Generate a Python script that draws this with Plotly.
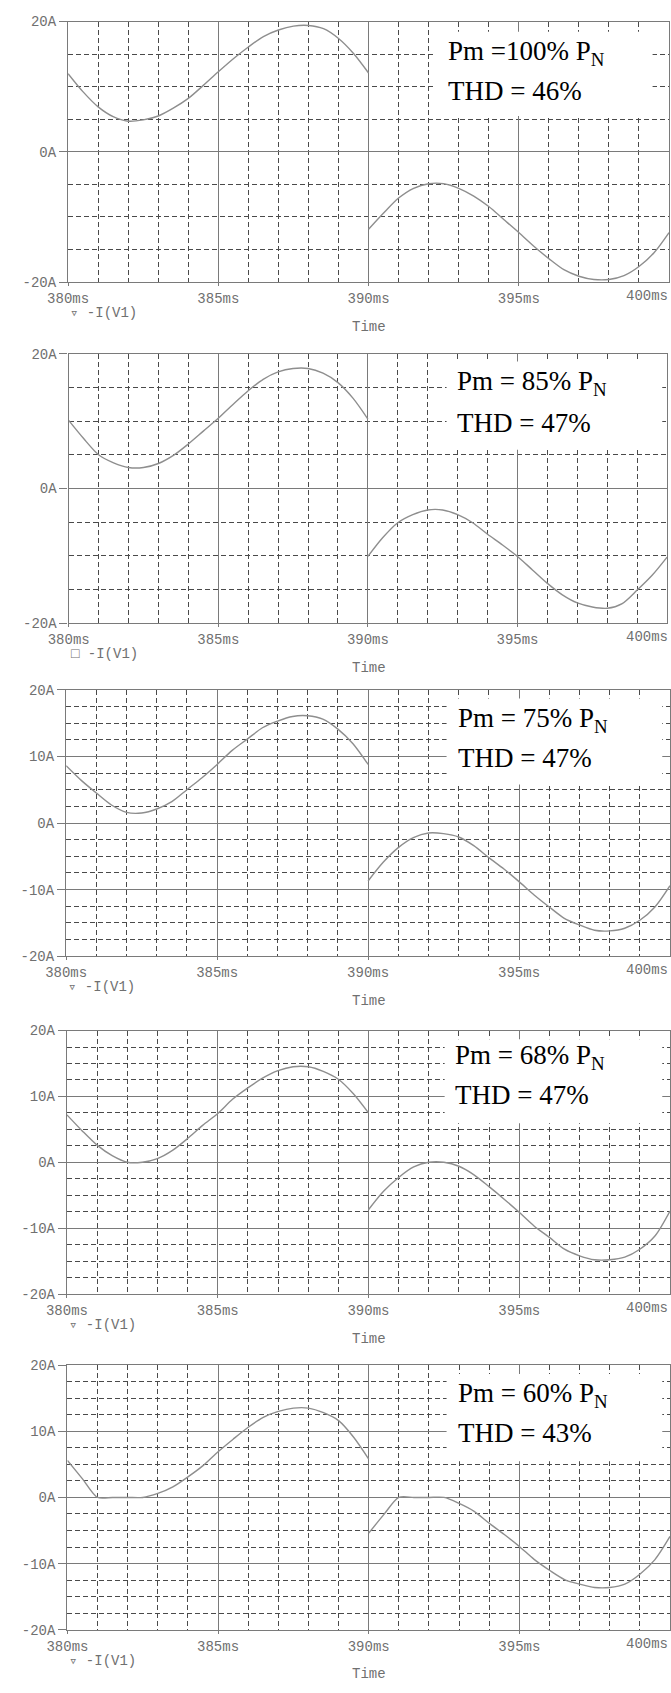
import plotly.graph_objects as go

# ---------------- data ----------------
TIME_POS_MS = [380, 380.5, 381, 381.5, 382, 382.5, 383, 383.5, 384, 384.5, 385,
               385.5, 386, 386.5, 387, 387.5, 388, 388.5, 389, 389.5, 390]
TIME_NEG_MS = [390, 390.5, 391, 391.5, 392, 392.5, 393, 393.5, 394, 394.5, 395,
               395.5, 396, 396.5, 397, 397.5, 398, 398.5, 399, 399.5, 400]

I_100_POS = [12.0, 9.2, 6.9, 5.4, 4.7, 4.9, 5.5, 6.7, 8.2, 10.2, 12.3,
             14.3, 16.1, 17.7, 18.7, 19.3, 19.4, 18.9, 17.4, 15.1, 12.1]
I_100_NEG = [-11.9, -9.4, -7.1, -5.6, -4.9, -4.9, -5.6, -6.8, -8.4, -10.4, -12.4,
             -14.5, -16.4, -18.1, -19.1, -19.6, -19.6, -19.0, -17.6, -15.5, -12.4]

I_85_POS = [10.1, 7.4, 5.0, 3.8, 3.1, 3.1, 3.7, 4.9, 6.6, 8.5, 10.4,
            12.5, 14.5, 16.2, 17.3, 17.8, 17.8, 17.1, 15.7, 13.4, 10.3]
I_85_NEG = [-10.1, -7.3, -5.1, -3.9, -3.2, -3.2, -3.9, -5.1, -6.8, -8.4, -10.1,
            -12.1, -14.1, -15.8, -17.0, -17.6, -17.8, -17.1, -15.1, -12.9, -10.2]

I_75_POS = [8.6, 6.4, 4.5, 2.7, 1.6, 1.5, 2.1, 3.2, 5.0, 6.8, 8.8,
            10.9, 12.6, 14.3, 15.3, 16.0, 16.1, 15.6, 14.1, 11.9, 8.8]
I_75_NEG = [-8.7, -5.9, -3.7, -2.2, -1.5, -1.6, -2.1, -3.4, -5.2, -6.9, -8.8,
            -10.8, -12.6, -14.3, -15.3, -16.1, -16.2, -15.8, -14.6, -12.6, -9.4]

I_68_POS = [7.2, 4.8, 2.6, 1.0, 0.0, 0.0, 0.55, 1.8, 3.6, 5.6, 7.4,
            9.6, 11.3, 12.8, 13.9, 14.5, 14.5, 13.8, 12.6, 10.4, 7.5]
I_68_NEG = [-7.2, -4.4, -2.3, -0.7, 0.0, 0.0, -0.6, -1.9, -3.7, -5.6, -7.6,
            -9.7, -11.4, -13.2, -14.2, -14.8, -14.8, -14.4, -13.2, -11.2, -7.4]

I_60_POS = [5.6, 2.8, 0.0, 0.0, 0.0, 0.0, 0.6, 1.6, 3.1, 4.8, 6.9,
            8.8, 10.6, 12.1, 13.0, 13.5, 13.5, 12.8, 11.6, 9.1, 5.8]
I_60_NEG = [-5.4, -2.6, 0.0, 0.0, 0.0, 0.0, -0.9, -2.1, -3.9, -5.6, -7.4,
            -9.4, -11.0, -12.4, -13.1, -13.6, -13.6, -13.1, -11.6, -9.4, -5.9]

PM_LABELS = ["Pm =100% P<sub>N</sub>", "Pm = 85% P<sub>N</sub>", "Pm = 75% P<sub>N</sub>",
             "Pm = 68% P<sub>N</sub>", "Pm = 60% P<sub>N</sub>"]
THD_LABELS = ["THD = 46%", "THD = 47%", "THD = 47%", "THD = 47%", "THD = 43%"]
LEGEND_LABELS = ["\u25BF -I(V1)", "\u25A1 -I(V1)", "\u25BF -I(V1)", "\u25BF -I(V1)", "\u25BF -I(V1)"]

X_TICK_VALS = [380, 385, 390, 395]
X_TICK_TEXT = ["380ms", "385ms", "390ms", "395ms"]
X_LAST_TICK_TEXT = "400ms"
Y_TICK_VALS_A = [-20, 0, 20]
Y_TICK_TEXT_A = ["-20A", "0A", "20A"]
Y_TICK_VALS_B = [-20, -10, 0, 10, 20]
Y_TICK_TEXT_B = ["-20A", "-10A", "0A", "10A", "20A"]

SERIES = [(I_100_POS, I_100_NEG), (I_85_POS, I_85_NEG), (I_75_POS, I_75_NEG),
          (I_68_POS, I_68_NEG), (I_60_POS, I_60_NEG)]

# ---------------- layout geometry (pixels) ----------------
W, H = 671, 1693
PANEL_TOP = [14.7, 350, 689.3, 1033.3, 1371]
PANEL_BOT = [277.7, 622, 958.3, 1299.3, 1638.3]
PANEL_LEFT = [48.7, 49.3, 46.7, 47.5, 48]
PANEL_RIGHT = [670, 668, 671, 671, 671]
BOX = [(427, 653, 25, 110), (440, 663, 358, 447), (440, 663, 698, 785),
       (438, 663, 1042, 1127), (440, 663, 1380, 1468)]
TEXT_POS = [(450, 53, 90), (460, 387, 425), (461, 727, 763),
            (458, 1067, 1103), (461, 1408, 1445)]

MAJOR_GRID = "#7a7a7a"
MINOR_GRID = "#4a4a4a"
TICK_FONT = dict(family="Liberation Mono, DejaVu Sans Mono, monospace", size=14, color="#707070")
SERIF = dict(family="Liberation Serif, Times New Roman, serif", size=27, color="black")
CURVE = "#8e8e8e"


def px_x(v):
    return v / W


def px_y(v):
    return 1 - v / H


fig = go.Figure()
layout = {}
shapes = []
annotations = []

for k, (pos, neg) in enumerate(SERIES):
    n = k + 1
    xname = "x" if n == 1 else f"x{n}"
    yname = "y" if n == 1 else f"y{n}"
    xs = TIME_POS_MS + [None] + TIME_NEG_MS
    ys = pos + [None] + neg
    fig.add_trace(go.Scatter(x=xs, y=ys, mode="lines", xaxis=xname, yaxis=yname,
                             line=dict(color=CURVE, width=1.4, shape="spline", smoothing=0.8),
                             connectgaps=False, showlegend=False, hoverinfo="skip"))

    big = k >= 2
    xkey = "xaxis" if n == 1 else f"xaxis{n}"
    ykey = "yaxis" if n == 1 else f"yaxis{n}"
    layout[xkey] = dict(
        domain=[px_x(PANEL_LEFT[k]), px_x(PANEL_RIGHT[k])],
        range=[380, 400],
        anchor=yname, tickmode="array", tickvals=X_TICK_VALS, ticktext=X_TICK_TEXT,
        ticks="outside", ticklen=3, tickcolor=MAJOR_GRID, tickfont=TICK_FONT,
        ticklabeloverflow="allow",
        showgrid=True, gridcolor=MAJOR_GRID, gridwidth=1.2,
        showline=True, linecolor=MAJOR_GRID, linewidth=1.2, mirror=True,
        zeroline=False, fixedrange=True,
        minor=dict(tickmode="linear", tick0=380, dtick=1, showgrid=True,
                   gridcolor=MINOR_GRID, gridwidth=1, griddash="5px,3px", ticks=""),
    )
    layout[ykey] = dict(
        domain=[px_y(PANEL_BOT[k]), px_y(PANEL_TOP[k])],
        range=[-20, 20], anchor=xname, tickmode="array",
        tickvals=Y_TICK_VALS_B if big else Y_TICK_VALS_A,
        ticktext=Y_TICK_TEXT_B if big else Y_TICK_TEXT_A,
        ticks="outside", ticklen=8, tickcolor=MAJOR_GRID, tickfont=TICK_FONT,
        ticklabeloverflow="allow",
        showgrid=True, gridcolor=MAJOR_GRID, gridwidth=1.2,
        showline=True, linecolor=MAJOR_GRID, linewidth=1.4, mirror=True,
        zeroline=False, fixedrange=True,
        minor=dict(tickmode="linear", tick0=-20, dtick=2.5 if big else 5, showgrid=True,
                   gridcolor=MINOR_GRID, gridwidth=1, griddash="5px,3px", ticks=""),
    )

    bx0, bx1, by0, by1 = BOX[k]
    shapes.append(dict(type="rect", xref="paper", yref="paper", layer="above",
                       x0=px_x(bx0), x1=px_x(bx1), y0=px_y(by1), y1=px_y(by0),
                       fillcolor="white", line=dict(width=0)))

    tx, ty1, ty2 = TEXT_POS[k]
    annotations.append(dict(xref="paper", yref="paper", x=px_x(tx - 11), y=px_y(ty1 - 7),
                            xanchor="left", yanchor="middle", showarrow=False,
                            text=PM_LABELS[k], font=SERIF))
    annotations.append(dict(xref="paper", yref="paper", x=px_x(tx - 11), y=px_y(ty2 - 5),
                            xanchor="left", yanchor="middle", showarrow=False,
                            text=THD_LABELS[k], font=SERIF))
    bot = PANEL_BOT[k]
    annotations.append(dict(xref="paper", yref="paper", x=1.0, y=px_y(bot + 14),
                            xanchor="right", yanchor="middle", showarrow=False,
                            text=X_LAST_TICK_TEXT, font=TICK_FONT))
    annotations.append(dict(xref="paper", yref="paper", x=px_x(PANEL_LEFT[k]), y=px_y(bot + 31),
                            xanchor="left", yanchor="middle", showarrow=False,
                            text=LEGEND_LABELS[k], font=TICK_FONT))
    annotations.append(dict(xref="paper", yref="paper", x=px_x(360), y=px_y(bot + 45),
                            xanchor="center", yanchor="middle", showarrow=False,
                            text="Time", font=TICK_FONT))

layout.update(dict(width=W, height=H, margin=dict(l=0, r=0, t=0, b=0),
                   paper_bgcolor="white", plot_bgcolor="white",
                   shapes=shapes, annotations=annotations, showlegend=False))
fig.update_layout(**layout)
fig.write_html("out.html")
